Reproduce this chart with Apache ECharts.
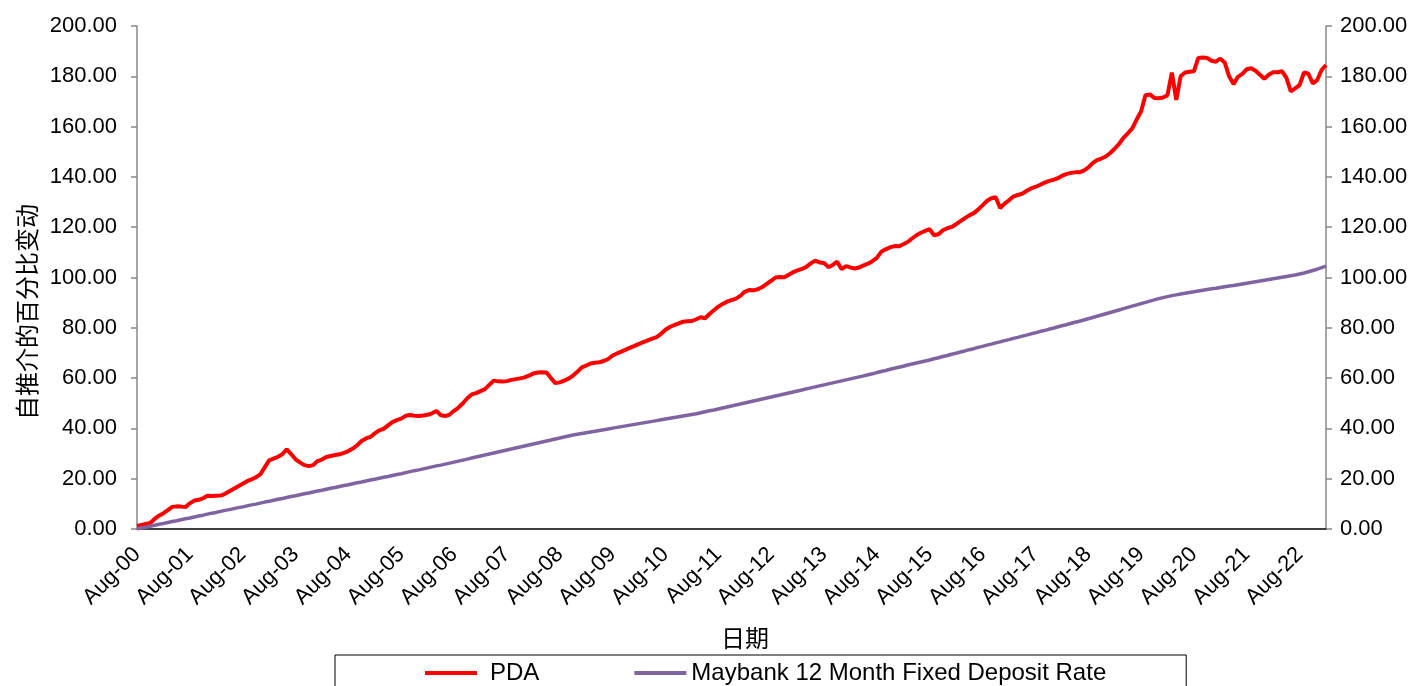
<!DOCTYPE html>
<html>
<head>
<meta charset="utf-8">
<script src="https://cdn.jsdelivr.net/npm/echarts@6/dist/echarts.min.js"></script>
<style>
html,body{margin:0;padding:0;background:#fff;}
#chart{width:1414px;height:686px;}
</style>
</head>
<body>
<div id="chart"></div>
<script>
// Category labels: monthly from Aug-00 to Feb-23
const startYear = 2000, startMonth = 7, monthCount = 271;
const monthNames = ["Jan","Feb","Mar","Apr","May","Jun","Jul","Aug","Sep","Oct","Nov","Dec"];
const categories = [];
for (let i = 0; i < monthCount; i++) {
  const m = (startMonth + i) % 12;
  const y = startYear + Math.floor((startMonth + i) / 12);
  categories.push(monthNames[m] + "-" + String(y % 100).padStart(2, "0"));
}

const seriesNames = ["PDA", "Maybank 12 Month Fixed Deposit Rate"];

const pda = [
  1.2, 1.6, 2.0, 2.4, 4.0, 5.3, 6.3, 7.5, 8.8, 9.0, 8.9, 8.7,
  10.2, 11.3, 11.6, 12.2, 13.2, 13.1, 13.2, 13.3, 14.0, 15.0, 16.0, 17.0,
  18.0, 19.0, 19.7, 20.6, 21.7, 24.5, 27.3, 28.0, 28.7, 29.7, 31.7, 29.8,
  27.7, 26.5, 25.4, 25.0, 25.4, 27.0, 27.6, 28.6, 29.0, 29.4, 29.7, 30.3,
  31.0, 32.0, 33.3, 35.0, 36.0, 36.6, 38.0, 39.2, 39.8, 41.2, 42.5, 43.3,
  43.9, 45.0, 45.3, 45.0, 44.9, 45.1, 45.4, 46.0, 46.9, 45.2, 44.9, 45.5,
  47.0, 48.3, 50.0, 52.0, 53.5, 54.0, 54.8, 55.6, 57.3, 59.0, 58.7, 58.6,
  58.8, 59.3, 59.6, 59.9, 60.3, 61.0, 61.8, 62.2, 62.3, 62.2, 60.0, 58.0,
  58.3, 59.0, 59.8, 61.0, 62.5, 64.3, 65.0, 65.8, 66.1, 66.3, 66.8, 67.6,
  69.0, 69.8, 70.5, 71.3, 72.1, 72.8, 73.6, 74.3, 75.0, 75.7, 76.3, 77.6,
  79.2, 80.3, 81.1, 81.8, 82.4, 82.6, 82.7, 83.4, 84.2, 83.8, 85.5, 87.0,
  88.4, 89.5, 90.4, 91.0, 91.6, 92.7, 94.3, 95.0, 94.9, 95.3, 96.2, 97.5,
  98.7, 100.0, 100.2, 100.1, 101.1, 102.1, 102.8, 103.4, 104.2, 105.6, 106.7, 106.0,
  105.8, 104.1, 105.0, 106.3, 103.3, 104.5, 104.0, 103.6, 104.0, 104.8, 105.5, 106.5,
  107.8, 110.2, 111.2, 112.0, 112.5, 112.4, 113.2, 114.1, 115.5, 116.8, 117.8, 118.5,
  119.2, 116.8, 117.2, 118.8, 119.6, 120.1, 121.2, 122.4, 123.6, 124.7, 125.6, 127.0,
  128.7, 130.4, 131.5, 131.9, 127.6, 129.4, 130.7, 132.2, 132.8, 133.3, 134.4, 135.4,
  136.0, 136.8, 137.6, 138.3, 138.8, 139.4, 140.4, 141.1, 141.6, 141.8, 141.8, 142.5,
  143.7, 145.5, 146.7, 147.3, 148.1, 149.5, 151.2, 153.1, 155.5, 157.3, 159.3, 162.8,
  166.0, 172.5, 172.8, 171.4, 171.3, 171.6, 172.5, 181.5, 170.6, 180.0, 181.5, 181.8,
  182.0, 187.3, 187.5, 187.3, 186.2, 185.8, 187.0, 185.5, 180.0, 176.9, 179.8, 181.0,
  182.8, 183.2, 182.2, 180.6, 179.0, 180.6, 181.6, 181.6, 182.0, 179.5, 174.0, 175.2,
  176.5, 181.5, 181.0, 177.2, 178.5, 182.5, 184.5
];

const maybank = [
  0.0, 0.4, 0.7, 1.1, 1.5, 1.9, 2.2, 2.6, 3.0, 3.3, 3.7, 4.1,
  4.4, 4.8, 5.2, 5.5, 5.9, 6.3, 6.6, 7.0, 7.4, 7.7, 8.1, 8.5,
  8.8, 9.2, 9.6, 9.9, 10.3, 10.7, 11.0, 11.4, 11.8, 12.1, 12.5, 12.9,
  13.2, 13.6, 14.0, 14.3, 14.7, 15.1, 15.4, 15.8, 16.2, 16.5, 16.9, 17.3,
  17.6, 18.0, 18.4, 18.7, 19.1, 19.5, 19.8, 20.2, 20.6, 20.9, 21.3, 21.7,
  22.0, 22.4, 22.8, 23.2, 23.5, 23.9, 24.3, 24.7, 25.1, 25.4, 25.8, 26.2,
  26.6, 27.0, 27.4, 27.8, 28.2, 28.6, 29.0, 29.4, 29.8, 30.2, 30.6, 31.0,
  31.4, 31.8, 32.2, 32.6, 33.0, 33.4, 33.8, 34.2, 34.6, 35.0, 35.4, 35.8,
  36.2, 36.6, 37.0, 37.4, 37.7, 38.0, 38.3, 38.6, 38.9, 39.2, 39.5, 39.8,
  40.1, 40.4, 40.7, 41.0, 41.3, 41.6, 41.9, 42.2, 42.5, 42.8, 43.1, 43.4,
  43.7, 44.0, 44.3, 44.6, 44.9, 45.2, 45.5, 45.8, 46.2, 46.6, 47.0, 47.3,
  47.7, 48.1, 48.5, 48.9, 49.3, 49.7, 50.1, 50.5, 50.9, 51.3, 51.7, 52.1,
  52.5, 52.9, 53.3, 53.7, 54.1, 54.5, 54.9, 55.3, 55.7, 56.1, 56.5, 56.9,
  57.3, 57.7, 58.1, 58.5, 58.9, 59.3, 59.7, 60.1, 60.5, 60.9, 61.3, 61.7,
  62.2, 62.6, 63.0, 63.5, 63.9, 64.3, 64.7, 65.2, 65.6, 66.0, 66.4, 66.8,
  67.2, 67.7, 68.1, 68.6, 69.0, 69.5, 69.9, 70.4, 70.8, 71.3, 71.7, 72.2,
  72.6, 73.1, 73.5, 74.0, 74.4, 74.9, 75.3, 75.8, 76.2, 76.7, 77.1, 77.6,
  78.0, 78.5, 78.9, 79.4, 79.8, 80.3, 80.8, 81.2, 81.7, 82.2, 82.6, 83.1,
  83.6, 84.1, 84.6, 85.1, 85.6, 86.1, 86.6, 87.1, 87.6, 88.1, 88.6, 89.1,
  89.6, 90.1, 90.6, 91.1, 91.6, 92.0, 92.4, 92.8, 93.1, 93.4, 93.7, 94.0,
  94.3, 94.6, 94.9, 95.2, 95.5, 95.7, 96.0, 96.3, 96.6, 96.8, 97.1, 97.4,
  97.7, 98.0, 98.3, 98.6, 98.9, 99.2, 99.5, 99.8, 100.1, 100.4, 100.7, 101.0,
  101.4, 101.8, 102.3, 102.8, 103.3, 103.9, 104.5
];

const yMin = 0, yMax = 200, yStep = 20;
const yTitle = "自推介的百分比变动";
const xTitle = "日期";

const FONT = "'Liberation Sans', Arial, sans-serif";
const CJK = "'Noto Sans CJK SC', sans-serif";

const chart = echarts.init(document.getElementById('chart'), null, {renderer: 'canvas'});
const yAxisCommon = {
  type: 'value', min: yMin, max: yMax, interval: yStep,
  splitLine: {show: false},
  axisLine: {show: true, lineStyle: {color: '#888888', width: 1.5}},
  axisTick: {show: true, inside: false, length: 6, lineStyle: {color: '#888888', width: 1.5}},
  axisLabel: {formatter: v => v.toFixed(2), color: '#000', fontFamily: FONT, fontSize: 22, margin: 20}
};
chart.setOption({
  animation: false,
  backgroundColor: '#ffffff',
  grid: {left: 137, right: 88, top: 26, bottom: 157, containLabel: false},
  xAxis: {
    type: 'category', data: categories, boundaryGap: false,
    axisLine: {show: true, lineStyle: {color: '#000', width: 1.5}},
    axisTick: {show: false},
    axisLabel: {interval: 11, rotate: 45, color: '#000', fontFamily: FONT, fontSize: 22, margin: 22},
    splitLine: {show: false}
  },
  yAxis: [
    Object.assign({}, yAxisCommon, {position: 'left'}),
    Object.assign({}, yAxisCommon, {position: 'right', axisLabel: Object.assign({}, yAxisCommon.axisLabel, {margin: 14})})
  ],
  legend: {
    data: seriesNames,
    left: 335, top: 655,
    padding: [6, 80, 6, 90],
    itemGap: 95,
    itemWidth: 52, itemHeight: 4,
    icon: 'rect',
    borderColor: '#000', borderWidth: 1,
    formatter: name => name === 'PDA' ? '{p|' + name + '}' : name,
    textStyle: {color: '#000', fontFamily: FONT, fontSize: 24,
      rich: {p: {padding: [0, 0, 0, 8], fontFamily: FONT, fontSize: 24, color: '#000'}}}
  },
  graphic: [
    {type: 'text', rotation: Math.PI / 2, x: 15, y: 420,
      style: {text: yTitle, font: '24px ' + CJK, fill: '#000'}},
    {type: 'text', left: 721, top: 626, style: {text: xTitle, font: '24px ' + CJK, fill: '#000'}}
  ],
  series: [
    {name: seriesNames[0], type: 'line', data: pda, yAxisIndex: 0, symbol: 'none',
      lineStyle: {color: '#FF0000', width: 4}, itemStyle: {color: '#FF0000'}},
    {name: seriesNames[1], type: 'line', data: maybank, yAxisIndex: 1, symbol: 'none',
      lineStyle: {color: '#8064A2', width: 3.5}, itemStyle: {color: '#8064A2'}}
  ]
});
</script>
</body>
</html>
